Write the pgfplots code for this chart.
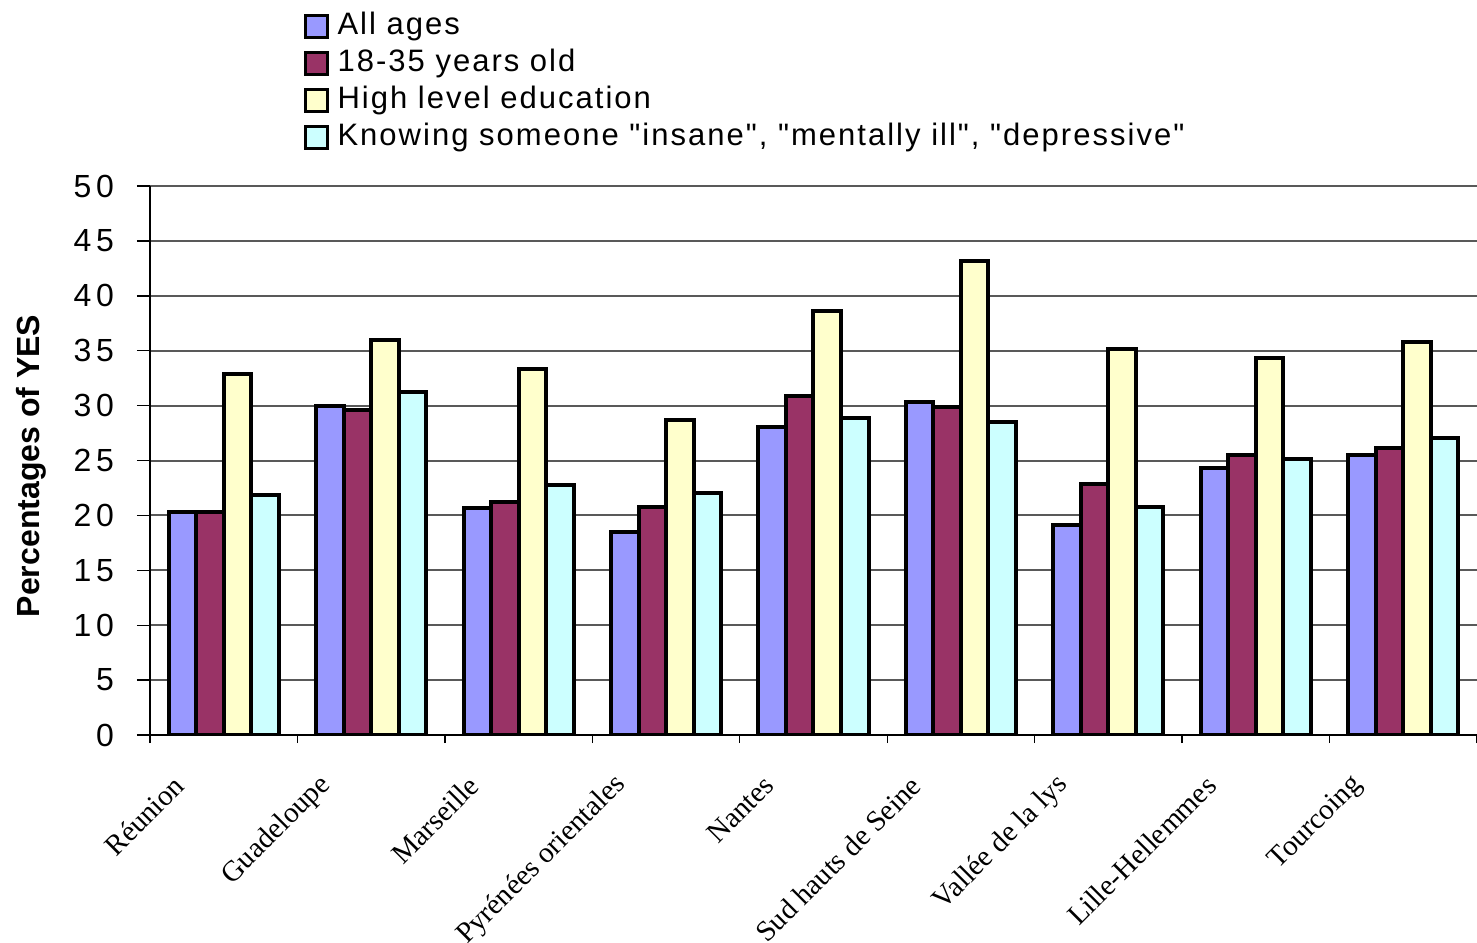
\documentclass[border=0pt]{standalone}
\usepackage{fontspec}
\setmainfont{Liberation Sans}
\newfontfamily\serifx{Liberation Serif}
\newfontfamily\spaced[LetterSpace=6.5]{Liberation Sans}
\newfontfamily\tickf[LetterSpace=15]{Liberation Sans}
\usepackage{pgfplots}
\pgfplotsset{compat=1.18}
\definecolor{c1}{HTML}{9999FF}
\definecolor{c2}{HTML}{993366}
\definecolor{c3}{HTML}{FFFFCC}
\definecolor{c4}{HTML}{CCFFFF}
\pgfplotstableread{
x all young high know
0 20.3 20.3 32.9 21.85
1 30.0 29.6 36.0 31.2
2 20.65 21.25 33.3 22.75
3 18.5 20.8 28.7 22.05
4 28.05 30.85 38.65 28.9
5 30.35 29.85 43.2 28.5
6 19.15 22.9 35.15 20.8
7 24.35 25.5 34.35 25.15
8 25.5 26.1 35.75 27.05
}\datatable
\begin{document}
\begin{tikzpicture}
\begin{axis}[
  width=663.5pt, height=274.5pt, scale only axis,
  at={(0,0)}, anchor=south west,
  ybar=0pt, bar width=0.1866,
  xmin=-0.5, xmax=8.5, ymin=0, ymax=50,
  ytick={0,5,...,50},
  xtick={0,...,8},
  xticklabels={Réunion,Guadeloupe,Marseille,Pyrénées orientales,Nantes,Sud hauts de Seine,Vallée de la lys,Lille-Hellemmes,Tourcoing},
  minor xtick={-0.5,0.5,...,8.5},
  major x tick style={draw=none},
  tick align=outside,
  major tick length=6.5pt,
  minor tick length=4pt,
  axis x line*=bottom, axis y line*=left,
  axis line style={black, line width=0.7pt, -},
  tick style={black, line width=0.7pt},
  ymajorgrids,
  grid style={draw=black!65, line width=1pt},
  /pgf/number format/assume math mode=true,
  yticklabel style={font=\tickf\fontsize{16}{19}\selectfont, xshift=-8pt},
  xticklabel style={font=\serifx\fontsize{14.5}{17}\selectfont, rotate=45, anchor=east, xshift=-24pt, yshift=4.2pt},
  ylabel={Percentages of YES},
  ylabel style={font=\bfseries\fontsize{16}{19}\selectfont, at={(axis description cs:0,0.49)}, anchor=center, yshift=59.5pt},
  legend style={at={(axis description cs:0.1112,1.33)}, anchor=north west, draw=none, fill=none,
     font=\spaced\fontsize{15.5}{18}\selectfont, row sep=1.5pt,
     nodes={inner sep=1pt, text height=11.5pt, text depth=3.5pt}},
  legend cell align=left,
  legend image code/.code={\draw[#1, line width=1.6pt] (0pt,-5.5pt) rectangle (11pt,5.5pt); \path (14pt,0pt);},
  every axis plot/.append style={draw=black, line width=2pt},
]
\addplot[fill=c1] table[x=x,y=all]{\datatable};
\addplot[fill=c2] table[x=x,y=young]{\datatable};
\addplot[fill=c3] table[x=x,y=high]{\datatable};
\addplot[fill=c4] table[x=x,y=know]{\datatable};
\legend{All ages,18-35 years old,High level education,{Knowing someone "insane", "mentally ill", "depressive"}}
\end{axis}
\pgfresetboundingbox
\path[use as bounding box] (-75pt,-103.5pt) rectangle (663.5pt,367.5pt);
\end{tikzpicture}
\end{document}
